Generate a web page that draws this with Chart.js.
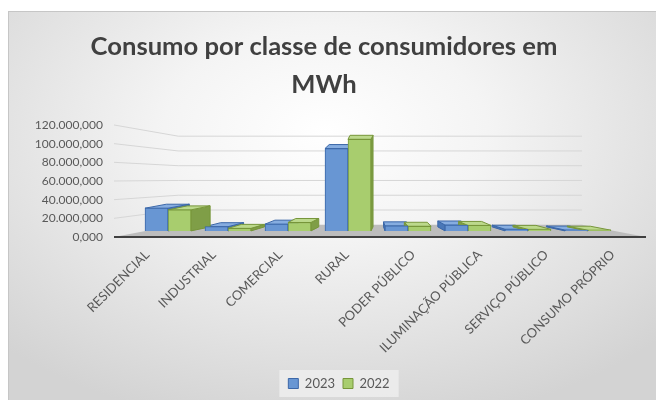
<!DOCTYPE html>
<html>
<head>
<meta charset="utf-8">
<script src="https://cdn.jsdelivr.net/npm/chart.js@4/dist/chart.umd.min.js"></script>
<style>
    body { margin: 0; background: #ffffff; }
    #frame {
        position: absolute; left: 8px; top: 11px; width: 660px; height: 400px;
        border: 1px solid #c6c6c6;
        background: radial-gradient(ellipse 70% 75% at 48% 30%, #ffffff 0%, #f4f4f4 35%, #d3d3d3 100%);
    }
    canvas { position: absolute; left: 0; top: 0; }
</style>
</head>
<body>
<div id="frame"></div>
<canvas id="chart" width="656" height="400"></canvas>
<script>
const categories = ["RESIDENCIAL", "INDUSTRIAL", "COMERCIAL", "RURAL", "PODER PÚBLICO", "ILUMINAÇÃO PÚBLICA", "SERVIÇO PÚBLICO", "CONSUMO PRÓPRIO"]
const consumo2023 = [27000, 5000, 8000, 98000, 6000, 7000, 2000, 1000]
const consumo2022 = [25000, 3000, 10000, 109000, 5500, 6500, 1800, 800]
const yTicks = [0, 20000, 40000, 60000, 80000, 100000, 120000]

const azul = { front: "#6896d3", top: "#86ade0", side: "#4a78b8", border: "#3b67a8" }
const verde = { front: "#a8cd6e", top: "#bcd98c", side: "#7f9e47", border: "#77963a" }

function formatar(v) {
    let inteiro = Math.round(v).toString().replace(/\B(?=(\d{3})+(?!\d))/g, ".")
    return inteiro + ",000"
}

// fake 3d: floor, back wall grid, top and side faces of the columns
const pseudo3d = {
    id: "pseudo3d",
    afterLayout(chart) {
        // legend sits a bit right of the title in the original
        chart.legend.left += 15
        chart.legend.right += 15
    },
    beforeDraw(chart) {
        let legend = chart.legend
        if (!legend || !legend.legendHitBoxes.length) return
        let boxes = legend.legendHitBoxes
        let x0 = boxes[0].left - 9
        let x1 = boxes[boxes.length - 1].left + boxes[boxes.length - 1].width + 9
        let y0 = boxes[0].top - 7
        let ctx = chart.ctx
        ctx.save()
        ctx.fillStyle = "rgba(236,236,236,0.9)"
        ctx.fillRect(x0, y0, x1 - x0, boxes[0].height + 14)
        ctx.restore()
    },
    beforeDatasetsDraw(chart) {
        let ctx = chart.ctx
        let area = chart.chartArea
        let yLab = chart.scales.y
        let yWall = chart.scales.yWall
        let xb = chart.scales.xb
        let wallLeft = xb.getPixelForValue(0.17)
        let wallRight = xb.getPixelForValue(6.9)
        let floorBack = yWall.getPixelForValue(0)
        let floorFront = yLab.getPixelForValue(0)
        ctx.save()
        // floor
        ctx.fillStyle = "#bdbdbd"
        ctx.beginPath()
        ctx.moveTo(area.left, floorFront)
        ctx.lineTo(wallLeft, floorBack)
        ctx.lineTo(wallRight, floorBack)
        ctx.lineTo(area.right, floorFront)
        ctx.closePath()
        ctx.fill()
        // wall grid
        ctx.strokeStyle = "#d6d6d6"
        ctx.lineWidth = 1
        yTicks.slice(1).forEach(v => {
            let yf = yLab.getPixelForValue(v)
            let yw = yWall.getPixelForValue(v)
            ctx.beginPath()
            ctx.moveTo(area.left, yf)
            ctx.lineTo(wallLeft, yw)
            ctx.lineTo(wallRight, yw)
            ctx.stroke()
        })
        // front edge of floor
        ctx.strokeStyle = "#404040"
        ctx.lineWidth = 2
        ctx.beginPath()
        ctx.moveTo(area.left, floorFront)
        ctx.lineTo(area.right, floorFront)
        ctx.stroke()

        // top and side faces
        let vx = xb.getPixelForValue(3.55)
        let dy = 4
        chart.data.datasets.forEach((ds, d) => {
            let cores = d === 0 ? azul : verde
            chart.getDatasetMeta(d).data.forEach(el => {
                let { x, y, base, width } = el.getProps(["x", "y", "base", "width"], true)
                let dx = (vx - x) * 0.095
                let l = x - width / 2
                let r = x + width / 2
                ctx.lineWidth = 1
                ctx.strokeStyle = cores.border
                let sx = dx > 0 ? r : l
                ctx.fillStyle = cores.side
                ctx.beginPath()
                ctx.moveTo(sx, y)
                ctx.lineTo(sx + dx, y - dy)
                ctx.lineTo(sx + dx, base - dy)
                ctx.lineTo(sx, base)
                ctx.closePath()
                ctx.fill()
                ctx.stroke()
                ctx.fillStyle = cores.top
                ctx.beginPath()
                ctx.moveTo(l, y)
                ctx.lineTo(r, y)
                ctx.lineTo(r + dx, y - dy)
                ctx.lineTo(l + dx, y - dy)
                ctx.closePath()
                ctx.fill()
                ctx.stroke()
            })
        })
        ctx.restore()
    }
}

Chart.defaults.font.family = "Lato"
Chart.defaults.color = "#595959"

let canvas = document.querySelector("#chart")

let config = {
    type: "bar",
    data: {
        labels: categories,
        datasets: [
            {
                label: "2023",
                data: consumo2023.map((v, i) => ({ x: i, y: v })),
                backgroundColor: azul.front,
                borderColor: azul.border,
                borderWidth: 1,
                xAxisID: "xb",
                yAxisID: "yb",
                barThickness: 23
            },
            {
                label: "2022",
                data: consumo2022.map((v, i) => ({ x: i, y: v })),
                backgroundColor: verde.front,
                borderColor: verde.border,
                borderWidth: 1,
                xAxisID: "xb",
                yAxisID: "yb",
                barThickness: 23
            }
        ]
    },
    options: {
        responsive: false,
        animation: false,
        layout: { padding: { top: 12, left: 2, right: 10, bottom: 0 } },
        plugins: {
            title: {
                display: true,
                text: ["Consumo por classe de consumidores em", "MWh"],
                color: "#404040",
                font: { family: "Lato", size: 25.6, weight: "bold", lineHeight: 1.48 },
                padding: { top: 16, bottom: 21.2 }
            },
            legend: {
                position: "bottom",
                labels: {
                    boxWidth: 10,
                    boxHeight: 10,
                    padding: 8,
                    font: { size: 13 },
                    color: "#595959"
                }
            },
            tooltip: { enabled: false }
        },
        scales: {
            // label axes (front edge of the floor)
            x: {
                type: "category",
                labels: categories,
                offset: true,
                grid: { display: false },
                border: { display: false },
                ticks: { autoSkip: false, maxRotation: 45, minRotation: 45, padding: 2, font: { size: 13 }, color: "#595959" },
                afterFit: (scale) => { scale.height = 132 }
            },
            y: {
                type: "linear",
                min: 0,
                max: 120000,
                grid: { display: false },
                border: { display: false },
                ticks: { padding: 3, font: { size: 12 }, color: "#595959", callback: (v) => formatar(v) },
                afterBuildTicks: (scale) => { scale.ticks = yTicks.map(v => ({ value: v })) },
                afterFit: (scale) => { scale.width = 112 }
            },
            // hidden axes for the columns (middle of the floor depth) and the back wall
            xb: {
                type: "linear", display: false, offset: false, min: -0.9, max: 7.967,
                afterBuildTicks: (scale) => { scale.ticks = categories.map((c, i) => ({ value: i })) }
            },
            yb: { type: "linear", display: false, min: -7273, max: 126061 },
            yWall: { type: "linear", display: false, min: -16552, max: 135172 }
        }
    },
    plugins: [pseudo3d]
}

const myChart = new Chart(canvas, config)
</script>
</body>
</html>
